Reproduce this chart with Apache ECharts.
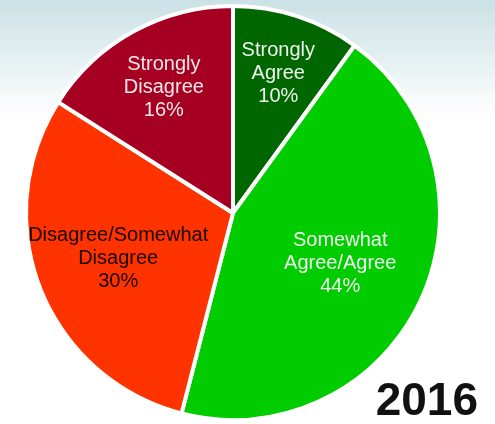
<!DOCTYPE html>
<html>
<head>
<meta charset="utf-8">
<script src="https://cdn.jsdelivr.net/npm/echarts@6/dist/echarts.min.js"></script>
<style>
html,body{margin:0;padding:0;background:#fff;}
#c{width:495px;height:424px;}
</style>
</head>
<body>
<div id="c"></div>
<script>
const categories = ['Strongly Agree', 'Somewhat Agree/Agree', 'Disagree/Somewhat Disagree', 'Strongly Disagree'];
const values = [10, 44, 30, 16];
const sliceColors = ['#006600', '#00cc00', '#ff3300', '#a50021'];
const labelColors = ['#eef5ee', '#eef8ee', '#1a0500', '#f3e6e8'];
const yearLabel = '2016';
// extra radial push (px) for each inside label
const labelShift = [40, 12, 17, 37];

const total = values.reduce((a, b) => a + b, 0);
const midAngles = [];
let acc = 0;
values.forEach(v => { midAngles.push((acc + v / 2) / total * 2 * Math.PI); acc += v; });

const chart = echarts.init(document.getElementById('c'), null, {renderer: 'canvas'});
chart.setOption({
  animation: false,
  backgroundColor: {
    type: 'linear', x: 0, y: 0, x2: 0, y2: 1,
    colorStops: [
      {offset: 0, color: '#cbe1e5'},
      {offset: 0.12, color: '#e1eef0'},
      {offset: 0.28, color: '#ffffff'},
      {offset: 1, color: '#ffffff'}
    ]
  },
  title: {
    text: yearLabel,
    right: 17,
    top: 379,
    padding: 0,
    textStyle: {
      fontFamily: 'Liberation Sans, Arial, sans-serif',
      fontSize: 46,
      fontWeight: 'bold',
      color: '#111111',
      lineHeight: 46
    }
  },
  series: [{
    type: 'pie',
    center: [233, 213],
    radius: [0, 207],
    startAngle: 90,
    clockwise: true,
    avoidLabelOverlap: false,
    emphasis: {disabled: true},
    itemStyle: {borderColor: '#ffffff', borderWidth: 4},
    label: {
      show: true,
      position: 'inside',
      fontFamily: 'Liberation Sans, Arial, sans-serif',
      fontSize: 20,
      lineHeight: 23,
      align: 'center',
      formatter: p => p.name.replace(/ (?=[^ ]*$)/, '\n') + '\n' + p.value + '%'
    },
    labelLine: {show: false},
    labelLayout: params => {
      const i = params.dataIndex;
      const a = midAngles[i];
      return {dx: Math.sin(a) * labelShift[i], dy: -Math.cos(a) * labelShift[i]};
    },
    data: categories.map((name, i) => ({
      name: name,
      value: values[i],
      itemStyle: {color: sliceColors[i]},
      label: {color: labelColors[i]}
    }))
  }]
});
</script>
</body>
</html>
